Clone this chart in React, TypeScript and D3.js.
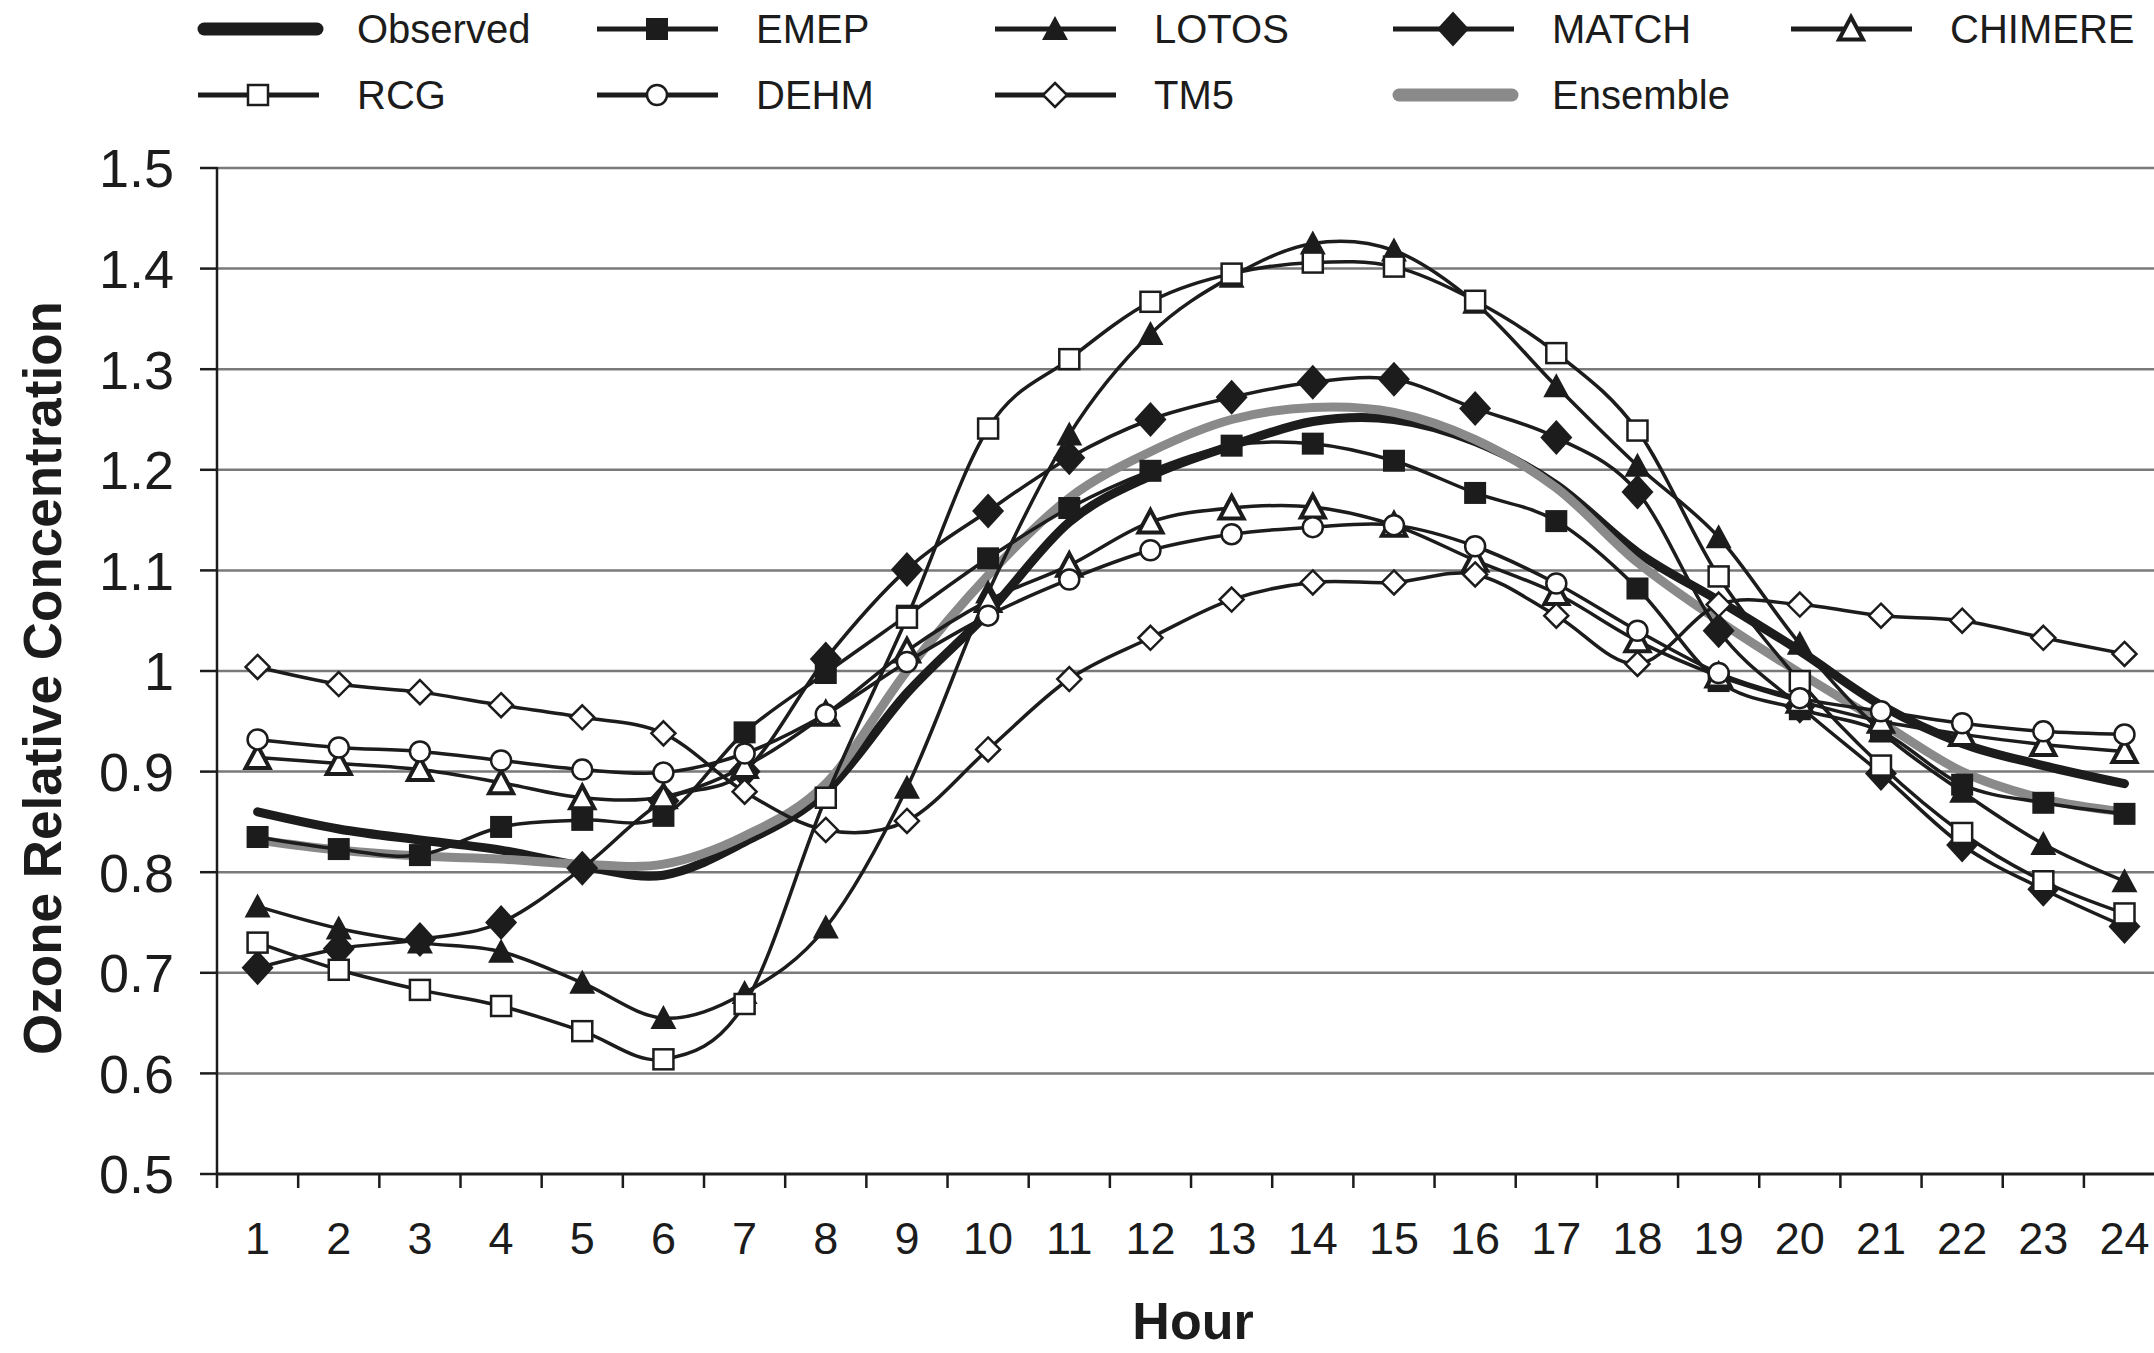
import { FC, useEffect } from 'react';
import * as d3 from 'd3';

// hourly ozone relative concentration
const hours = [1, 2, 3, 4, 5, 6, 7, 8, 9, 10, 11, 12, 13, 14, 15, 16, 17, 18, 19, 20, 21, 22, 23, 24];
const yTicks = [0.5, 0.6, 0.7, 0.8, 0.9, 1, 1.1, 1.2, 1.3, 1.4, 1.5];

const observed = [0.86, 0.843, 0.832, 0.822, 0.806, 0.797, 0.83, 0.88, 0.978, 1.058, 1.148, 1.194, 1.224, 1.248, 1.25, 1.228, 1.185, 1.118, 1.07, 1.02, 0.966, 0.928, 0.906, 0.888];
const ensemble = [0.832, 0.822, 0.816, 0.813, 0.808, 0.808, 0.836, 0.888, 1.0, 1.095, 1.172, 1.218, 1.25, 1.262, 1.257, 1.23, 1.182, 1.108, 1.05, 0.998, 0.949, 0.9, 0.873, 0.86];
const emep = [0.835, 0.823, 0.817, 0.845, 0.852, 0.856, 0.939, 0.998, 1.055, 1.112, 1.162, 1.199, 1.224, 1.226, 1.209, 1.177, 1.149, 1.082, 0.99, 0.962, 0.94, 0.887, 0.869, 0.858];
const lotos = [0.766, 0.744, 0.73, 0.721, 0.69, 0.655, 0.68, 0.745, 0.884, 1.078, 1.235, 1.335, 1.392, 1.425, 1.418, 1.366, 1.283, 1.204, 1.133, 1.027, 0.94, 0.88, 0.828, 0.791];
const match = [0.705, 0.724, 0.733, 0.75, 0.804, 0.871, 0.9, 1.012, 1.101, 1.159, 1.212, 1.25, 1.272, 1.287, 1.29, 1.261, 1.232, 1.178, 1.04, 0.965, 0.898, 0.827, 0.783, 0.746];
const chimere = [0.914, 0.908, 0.902, 0.889, 0.874, 0.875, 0.905, 0.957, 1.02, 1.07, 1.105, 1.148, 1.162, 1.163, 1.145, 1.11, 1.077, 1.03, 0.995, 0.97, 0.95, 0.937, 0.927, 0.92];
const rcg = [0.73, 0.703, 0.683, 0.667, 0.642, 0.614, 0.669, 0.874, 1.053, 1.241, 1.31, 1.367, 1.395, 1.406, 1.402, 1.368, 1.316, 1.239, 1.094, 0.99, 0.906, 0.839, 0.791, 0.759];
const dehm = [0.932, 0.924, 0.92, 0.911, 0.902, 0.899, 0.918, 0.957, 1.009, 1.055, 1.091, 1.12, 1.136, 1.143, 1.145, 1.124, 1.087, 1.04, 0.998, 0.973, 0.96, 0.948, 0.94, 0.937];
const tm5 = [1.004, 0.987, 0.979, 0.966, 0.954, 0.938, 0.88, 0.842, 0.851, 0.922, 0.992, 1.033, 1.071, 1.088, 1.088, 1.096, 1.055, 1.007, 1.066, 1.066, 1.055, 1.05, 1.033, 1.017];

type Shape = 'none' | 'square' | 'triangle' | 'diamond' | 'openTriangle' | 'openSquare' | 'circle' | 'openDiamond';

interface Series {
  name: string;
  values: number[];
  shape: Shape;
  stroke: string;
  width: number;
}

const INK = '#1c1c1c';

const models: Series[] = [
  { name: 'EMEP', values: emep, shape: 'square', stroke: INK, width: 3.5 },
  { name: 'LOTOS', values: lotos, shape: 'triangle', stroke: INK, width: 3.5 },
  { name: 'MATCH', values: match, shape: 'diamond', stroke: INK, width: 3.5 },
  { name: 'CHIMERE', values: chimere, shape: 'openTriangle', stroke: INK, width: 3.5 },
  { name: 'RCG', values: rcg, shape: 'openSquare', stroke: INK, width: 3.5 },
  { name: 'DEHM', values: dehm, shape: 'circle', stroke: INK, width: 3.5 },
  { name: 'TM5', values: tm5, shape: 'openDiamond', stroke: INK, width: 3.5 },
];
const obsSeries: Series = { name: 'Observed', values: observed, shape: 'none', stroke: INK, width: 9 };
const ensSeries: Series = { name: 'Ensemble', values: ensemble, shape: 'none', stroke: '#8a8a8a', width: 9 };

const legendRows = [
  ['Observed', 'EMEP', 'LOTOS', 'MATCH', 'CHIMERE'],
  ['RCG', 'DEHM', 'TM5', 'Ensemble'],
];

const FONT = '"Liberation Sans", Arial, sans-serif';

const Marker: FC<{ shape: Shape; x: number; y: number }> = ({ shape, x, y }) => {
  const t = `translate(${x},${y})`;
  switch (shape) {
    case 'square':
      return <rect transform={t} x={-11} y={-11} width={22} height={22} fill={INK} />;
    case 'openSquare':
      return <rect transform={t} x={-10} y={-10} width={20} height={20} fill="#fff" stroke={INK} strokeWidth={2.5} />;
    case 'triangle':
      return <path transform={t} d="M0,-13L13,11L-13,11Z" fill={INK} />;
    case 'openTriangle':
      return <path transform={t} d="M0,-12L12,10.5L-12,10.5Z" fill="#fff" stroke={INK} strokeWidth={4} strokeLinejoin="miter" />;
    case 'diamond':
      return <path transform={t} d="M0,-17.5L16,0L0,17.5L-16,0Z" fill={INK} />;
    case 'openDiamond':
      return <path transform={t} d="M0,-12L12,0L0,12L-12,0Z" fill="#fff" stroke={INK} strokeWidth={2.5} />;
    case 'circle':
      return <circle cx={x} cy={y} r={10} fill="#fff" stroke={INK} strokeWidth={2.5} />;
    default:
      return null;
  }
};

const App: FC = () => {
  useEffect(() => {
    document.body.style.margin = '0';
  }, []);

  const W = 2154;
  const H = 1353;
  const left = 217;
  const bandW = 81.17;
  const top = 168;
  const bottom = 1174;

  const x = d3
    .scaleBand<number>()
    .domain(hours)
    .range([left, left + bandW * hours.length])
    .padding(0);
  const y = d3.scaleLinear().domain([0.5, 1.5]).range([bottom, top]);
  const cx = (h: number) => (x(h) as number) + x.bandwidth() / 2;

  const line = d3
    .line<number>()
    .x((_, i) => cx(hours[i]))
    .y(d => y(d))
    .curve(d3.curveCatmullRom.alpha(0));

  const byName: Record<string, Series> = { Observed: obsSeries, Ensemble: ensSeries };
  models.forEach(s => (byName[s.name] = s));

  const colX = [198, 597, 995, 1393, 1791];
  const rowY = [29, 95];

  return (
    <svg width={W} height={H} style={{ display: 'block', background: '#fff' }} fontFamily={FONT}>
      {/* gridlines */}
      {yTicks.slice(1).map(t => (
        <line key={t} x1={left} x2={W} y1={y(t)} y2={y(t)} stroke="#7a7a7a" strokeWidth={2.5} />
      ))}

      {/* axes */}
      <line x1={left} x2={left} y1={top - 1} y2={bottom + 14} stroke={INK} strokeWidth={2.5} />
      <line x1={left} x2={W} y1={bottom} y2={bottom} stroke={INK} strokeWidth={3} />
      {yTicks.map(t => (
        <g key={t}>
          <line x1={left - 17} x2={left} y1={y(t)} y2={y(t)} stroke={INK} strokeWidth={2.5} />
          <text x={174} y={y(t)} dy="0.36em" textAnchor="end" fontSize={54} fill={INK}>
            {t === 1 ? '1' : t.toFixed(1)}
          </text>
        </g>
      ))}
      {hours.map(h => (
        <g key={h}>
          <line
            x1={(x(h) as number) + bandW}
            x2={(x(h) as number) + bandW}
            y1={bottom}
            y2={bottom + 14}
            stroke={INK}
            strokeWidth={2.5}
          />
          <text x={cx(h)} y={1254} textAnchor="middle" fontSize={45} fill={INK}>
            {h}
          </text>
        </g>
      ))}

      {/* series lines */}
      <path d={line(obsSeries.values) || ''} fill="none" stroke={obsSeries.stroke} strokeWidth={obsSeries.width} strokeLinecap="round" />
      <path d={line(ensSeries.values) || ''} fill="none" stroke={ensSeries.stroke} strokeWidth={ensSeries.width} strokeLinecap="round" />
      {models.map(s => (
        <g key={s.name}>
          <path d={line(s.values) || ''} fill="none" stroke={s.stroke} strokeWidth={s.width} />
          {s.values.map((v, i) => (
            <Marker key={i} shape={s.shape} x={cx(hours[i])} y={y(v)} />
          ))}
        </g>
      ))}

      {/* axis titles */}
      <text transform="translate(61,678) rotate(-90)" textAnchor="middle" fontSize={53} fontWeight="bold" fill={INK}>
        Ozone Relative Concentration
      </text>
      <text x={1193} y={1339} textAnchor="middle" fontSize={52} fontWeight="bold" fill={INK}>
        Hour
      </text>

      {/* legend */}
      {legendRows.map((row, r) =>
        row.map((name, c) => {
          const s = byName[name];
          const x0 = colX[c];
          const ly = rowY[r];
          const thick = s.shape === 'none';
          return (
            <g key={name}>
              <line
                x1={x0 + (thick ? 6 : 0)}
                x2={x0 + (thick ? 119 : 121)}
                y1={ly}
                y2={ly}
                stroke={s.stroke}
                strokeWidth={thick ? 13 : 5}
                strokeLinecap={thick ? 'round' : 'butt'}
              />
              <Marker shape={s.shape} x={x0 + 60} y={ly} />
              <text x={x0 + 159} y={ly + 14} fontSize={40} fill={INK}>
                {name}
              </text>
            </g>
          );
        })
      )}
    </svg>
  );
};

export default App;
